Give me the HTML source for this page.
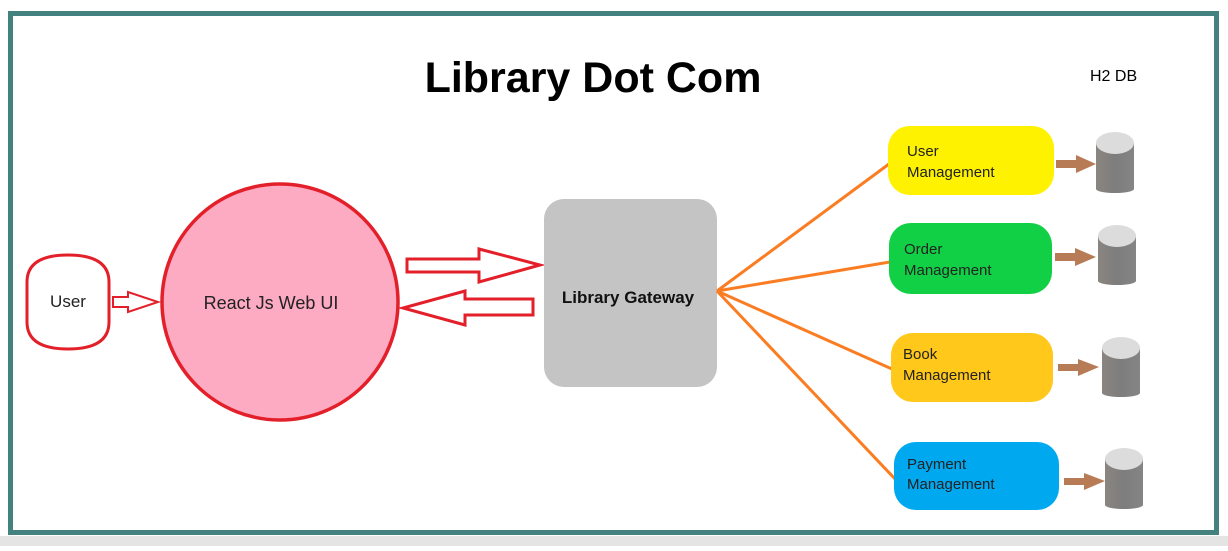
<!DOCTYPE html>
<html><head><style>
body{margin:0;width:1228px;height:546px;background:#fff;overflow:hidden;font-family:"Liberation Sans",sans-serif;}
</style></head><body>
<svg width="1228" height="546" viewBox="0 0 1228 546" xmlns="http://www.w3.org/2000/svg">
<rect x="0" y="536" width="1228" height="10" fill="#e4e4e4"/>
<rect x="10.5" y="13.5" width="1206" height="519" fill="#fff" stroke="#43827e" stroke-width="5"/>
<text x="593" y="92" text-anchor="middle" font-size="43" font-weight="bold" fill="#000">Library Dot Com</text>
<text x="1090" y="81" font-size="16" fill="#000">H2 DB</text>
<!-- user -->
<path d="M27,282 Q27,255 68,255 Q109,255 109,282 V322 Q109,349 68,349 Q27,349 27,322 Z" fill="#fff" stroke="#e3202a" stroke-width="3"/>
<text x="68" y="307" text-anchor="middle" font-size="17" fill="#222">User</text>
<polygon points="113,297 128,297 128,292 158,302 128,312 128,307 113,307" fill="#fff" stroke="#e3202a" stroke-width="2"/>
<!-- circle -->
<circle cx="280" cy="302" r="118" fill="#fdaac3" stroke="#e3202a" stroke-width="3.5"/>
<text x="271" y="309" text-anchor="middle" font-size="18" fill="#222">React Js Web UI</text>
<!-- big arrows -->
<polygon points="407,259 479,259 479,249 540,265 479,282 479,272 407,272" fill="#fff" stroke="#e3202a" stroke-width="3"/>
<polygon points="533,299 465,299 465,291 403,308 465,325 465,315 533,315" fill="#fff" stroke="#e3202a" stroke-width="3"/>
<!-- gateway -->
<rect x="544" y="199" width="173" height="188" rx="20" fill="#c4c4c4"/>
<text x="628" y="303" text-anchor="middle" font-size="17" font-weight="bold" fill="#111">Library Gateway</text>
<!-- lines -->
<g stroke="#fb7d23" stroke-width="3" fill="none">
<line x1="717" y1="291" x2="889" y2="164"/>
<line x1="717" y1="291" x2="890" y2="262"/>
<line x1="717" y1="291" x2="892" y2="369"/>
<line x1="717" y1="291" x2="896" y2="480"/>
</g>
<!-- boxes -->
<rect x="888" y="126" width="166" height="69" rx="22" fill="#fef200"/>
<text font-size="15" fill="#222"><tspan x="907" y="156">User</tspan><tspan x="907" y="177">Management</tspan></text>
<rect x="889" y="223" width="163" height="71" rx="22" fill="#11d046"/>
<text font-size="15" fill="#222"><tspan x="904" y="254">Order</tspan><tspan x="904" y="275">Management</tspan></text>
<rect x="891" y="333" width="162" height="69" rx="22" fill="#ffc81a"/>
<text font-size="15" fill="#222"><tspan x="903" y="359">Book</tspan><tspan x="903" y="380">Management</tspan></text>
<rect x="894" y="442" width="165" height="68" rx="22" fill="#00a8f0"/>
<text font-size="15" fill="#222"><tspan x="907" y="469">Payment</tspan><tspan x="907" y="489">Management</tspan></text>
<!-- db arrows and cylinders -->
<defs><linearGradient id="g" x1="0" x2="1"><stop offset="0" stop-color="#8a8580"/><stop offset="0.5" stop-color="#7d7d7d"/><stop offset="1" stop-color="#858585"/></linearGradient></defs>
<g fill="#b77c56">
<polygon points="1056,160 1076,160 1076,155 1096,164 1076,173 1076,168 1056,168"/>
<polygon points="1055,253 1075,253 1075,248 1096,257 1075,266 1075,261 1055,261"/>
<polygon points="1058,364 1078,364 1078,359 1099,367 1078,376 1078,371 1058,371"/>
<polygon points="1064,478 1084,478 1084,473 1105,481 1084,490 1084,485 1064,485"/>
</g>
<g>
<path d="M1096,143 v46 a19,4 0 0 0 38,0 v-46 z" fill="url(#g)"/><ellipse cx="1115" cy="143" rx="19" ry="11" fill="#dcdcdc"/>
<path d="M1098,236 v45 a19,4 0 0 0 38,0 v-45 z" fill="url(#g)"/><ellipse cx="1117" cy="236" rx="19" ry="11" fill="#dcdcdc"/>
<path d="M1102,348 v45 a19,4 0 0 0 38,0 v-45 z" fill="url(#g)"/><ellipse cx="1121" cy="348" rx="19" ry="11" fill="#dcdcdc"/>
<path d="M1105,459 v46 a19,4 0 0 0 38,0 v-46 z" fill="url(#g)"/><ellipse cx="1124" cy="459" rx="19" ry="11" fill="#dcdcdc"/>
</g>
</svg>
</body></html>
